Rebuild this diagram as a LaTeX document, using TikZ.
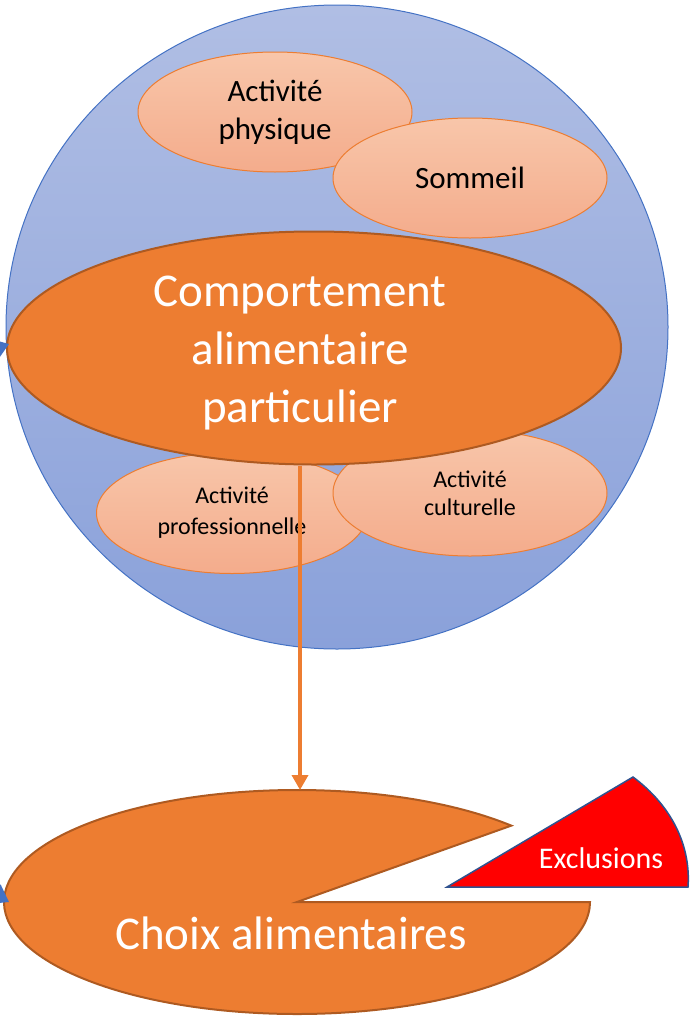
\documentclass[tikz,border=0pt]{standalone}
\usepackage{fontspec}
\setmainfont{Carlito}
\usetikzlibrary{shapes.geometric,arrows.meta}
\definecolor{orangeA}{RGB}{237,125,49}
\definecolor{orangeD}{RGB}{174,90,33}
\definecolor{blueA}{RGB}{68,114,196}
\definecolor{blueD}{RGB}{47,82,143}
\definecolor{circTop}{RGB}{176,190,228}
\definecolor{circBot}{RGB}{138,161,218}
\definecolor{lightTop}{RGB}{248,198,170}
\definecolor{lightBot}{RGB}{244,172,140}
\tikzset{
  smallell/.style={ellipse, draw=orangeA, line width=1pt, top color=lightTop, bottom color=lightBot, inner sep=0pt, align=center, text=black},
  bigell/.style={ellipse, draw=orangeD, line width=2pt, fill=orangeA, inner sep=0pt},
  bigtext/.style={text=white, align=center, inner sep=0pt, font=\fontsize{47}{58}\selectfont},
  flow/.style={draw=orangeA, line width=3.5pt, -{Triangle[width=16pt,length=15pt]}},
  sidearrow/.style={draw=blueA, line width=2pt, -{Triangle[width=22pt,length=16pt]}}
}
\begin{document}
\begin{tikzpicture}[x=1pt,y=-1pt]
\useasboundingbox (0,0) rectangle (693,1017);
\clip (0,0) rectangle (693,1017);
% big circle
\path[draw=blueA, line width=1pt, top color=circTop, bottom color=circBot] (337,327) ellipse [x radius=331, y radius=322];
% small ellipses
\node[smallell, minimum width=274pt, minimum height=120pt, font=\fontsize{31}{38}\selectfont] (phys) at (275,112) {Activité\\physique};
\node[smallell, minimum width=274pt, minimum height=120pt, font=\fontsize{31}{38}\selectfont] (somm) at (470,178) {Sommeil};
\node[smallell, minimum width=271pt, minimum height=121pt, font=\fontsize{24}{31}\selectfont] (prof) at (232,513) {Activité\\professionnelle};
\node[smallell, minimum width=274pt, minimum height=126pt, font=\fontsize{24}{28}\selectfont] (cult) at (470,493) {Activité\\culturelle};
% big ellipse
\node[bigell, minimum width=614pt, minimum height=233pt] (comp) at (314,348) {};
\node[bigtext] (comptext) at (300,353) {Comportement\\alimentaire\\particulier};
% pie (Choix alimentaires)
\path[draw=orangeD, line width=2pt, fill=orangeA] (297,902) -- +(43:293 and -112) arc[start angle=43, end angle=360, x radius=293, y radius=-112] -- cycle;
\node[bigtext] (choix) at (291,933) {Choix alimentaires};
% exclusions wedge
\path[draw=blueD, line width=1.5pt, fill=red] (447,887) -- (633,777) .. controls (672,806) and (691,846) .. (688,887) -- cycle;
\node[text=white, font=\fontsize{30}{36}\selectfont] (excl) at (601,858) {Exclusions};
% connector
\coordinate (pietop) at (300,790);
\draw[flow] (comp.south -| pietop) -- (pietop);
% cropped arrows at left edge
\coordinate (a1) at (-30,358);
\coordinate (a1e) at (9,344);
\coordinate (a2) at (-30,880);
\coordinate (a2e) at (9,902);
\draw[sidearrow] (a1) -- (a1e);
\draw[sidearrow] (a2) -- (a2e);
\end{tikzpicture}
\end{document}
